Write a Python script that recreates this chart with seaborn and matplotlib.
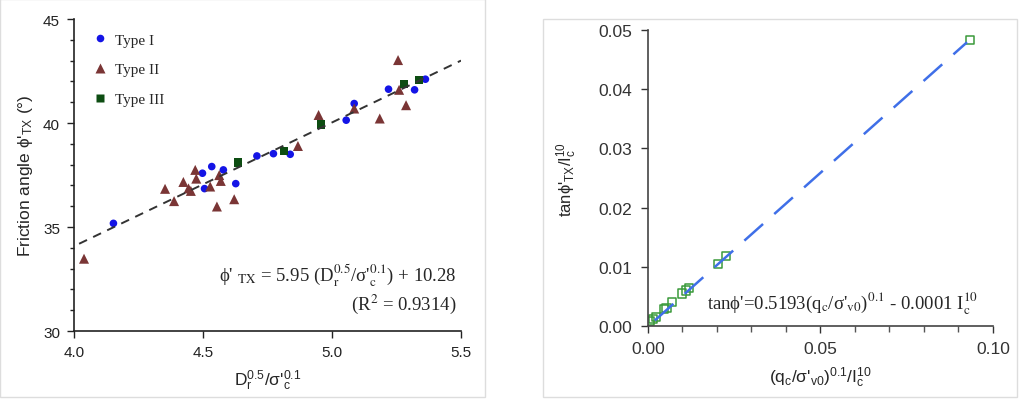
import matplotlib
matplotlib.use('Agg')
import matplotlib.pyplot as plt
import matplotlib.ticker as mticker
from matplotlib.patches import Rectangle
import numpy as np
import pandas as pd
import seaborn as sns

# left panel data: friction angle vs Dr^0.5 / sigma'c^0.1
type1_x = [4.153, 4.498, 4.506, 4.534, 4.579, 4.627, 4.709, 4.773, 4.838, 5.055, 5.086, 5.219, 5.320, 5.362]
type1_y = [35.18, 37.59, 36.85, 37.91, 37.75, 37.09, 38.42, 38.53, 38.50, 40.14, 40.94, 41.63, 41.60, 42.11]
type2_x = [4.039, 4.353, 4.388, 4.424, 4.444, 4.453, 4.470, 4.474, 4.528, 4.554, 4.563, 4.569, 4.621,
           4.868, 4.948, 5.086, 5.185, 5.256, 5.260, 5.287]
type2_y = [33.48, 36.84, 36.25, 37.17, 36.86, 36.74, 37.75, 37.33, 36.95, 35.99, 37.50, 37.22, 36.34,
           38.90, 40.39, 40.70, 40.22, 43.03, 41.60, 40.86]
type3_x = [4.635, 4.815, 4.958, 5.280, 5.338]
type3_y = [38.10, 38.66, 39.94, 41.88, 42.07]
fit_slope = 5.95
fit_icpt = 10.28
fit_range = [4.02, 5.5]

# right panel data
tan_x = [0.0006, 0.0015, 0.0023, 0.0046, 0.0054, 0.0070, 0.0098, 0.0110, 0.0119, 0.0204, 0.0226, 0.0933]
tan_y = [0.0009, 0.0012, 0.0015, 0.0029, 0.0031, 0.0040, 0.0055, 0.0060, 0.0064, 0.0105, 0.0118, 0.0483]
tan_slope = 0.5193
tan_icpt = -0.0001
tan_range = [0.002, 0.0925]

left_df = pd.DataFrame({
    'x': type1_x + type2_x + type3_x,
    'y': type1_y + type2_y + type3_y,
    'type': ['Type I'] * len(type1_x) + ['Type II'] * len(type2_x) + ['Type III'] * len(type3_x),
})
right_df = pd.DataFrame({'x': tan_x, 'y': tan_y})

sns.set_style('white')
plt.rcParams['font.family'] = ['Liberation Sans', 'DejaVu Sans']
plt.rcParams['mathtext.fontset'] = 'custom'
plt.rcParams['mathtext.rm'] = 'Liberation Sans'
plt.rcParams['mathtext.it'] = 'Liberation Sans'
plt.rcParams['mathtext.default'] = 'rm'

fig = plt.figure(figsize=(10.3, 4.1), dpi=100)
fig.patches.append(Rectangle((0.0, 0.03), 0.471, 0.97, transform=fig.transFigure,
                             fill=False, edgecolor='#dddddd', linewidth=1))
fig.patches.append(Rectangle((0.527, 0.03), 0.46, 0.921, transform=fig.transFigure,
                             fill=False, edgecolor='#dddddd', linewidth=1))

ax1 = fig.add_axes([0.0718, 0.190, 0.3758, 0.761])
ax2 = fig.add_axes([0.629, 0.2024, 0.335, 0.722])

serif = ['Liberation Serif', 'DejaVu Serif']

# ---- left panel
palette = {'Type I': '#1414e6', 'Type II': '#7a3535', 'Type III': '#0d4d12'}
markers = {'Type I': 'o', 'Type II': '^', 'Type III': 's'}
sizes = {'Type I': 30, 'Type II': 52, 'Type III': 36}
fx = np.array(fit_range)
sns.lineplot(x=fx, y=fit_slope * fx + fit_icpt, ax=ax1, color='#333333',
             linestyle=(0, (4.5, 3.5)), linewidth=1.4, legend=False)
sns.scatterplot(data=left_df, x='x', y='y', hue='type', style='type', size='type',
                palette=palette, markers=markers, sizes=sizes, edgecolor='none', ax=ax1)
ax1.set_xlim(4.0, 5.5)
ax1.set_ylim(30, 45)
ax1.xaxis.set_major_locator(mticker.MultipleLocator(0.5))
ax1.yaxis.set_major_locator(mticker.MultipleLocator(5))
ax1.yaxis.set_minor_locator(mticker.MultipleLocator(1))
ax1.xaxis.set_major_formatter(mticker.FormatStrFormatter('%.1f'))
ax1.tick_params(which='major', direction='out', length=5, width=1, labelsize=11,
                colors='#222222', pad=5)
ax1.tick_params(which='minor', direction='out', length=3, width=1, colors='#222222')
ax1.tick_params(axis='both', which='both', left=True, bottom=True)
for s in ['top', 'right']:
    ax1.spines[s].set_visible(False)
for s in ['left', 'bottom']:
    ax1.spines[s].set_color('#222222')
    ax1.spines[s].set_linewidth(1.2)
ax1.set_xlabel(r"D$_{\rm r}^{0.5}$/σ'$_{\rm c}^{0.1}$", fontsize=12.5, labelpad=6)
ax1.set_ylabel(r"Friction angle ϕ$'_{\rm TX}$ (°)", fontsize=12.5, labelpad=6)
leg = ax1.legend(loc='upper left', frameon=False, prop={'family': serif, 'size': 11},
                 handletextpad=0.0, labelspacing=1.05, borderaxespad=0.3,
                 bbox_to_anchor=(0.0, 0.99))
ax1.text(0.987, 0.18, r"ϕ' $_{\rm TX}$ = 5.95 (D$_{\rm r}^{0.5}$/σ'$_{\rm c}^{0.1}$) + 10.28",
         transform=ax1.transAxes, ha='right', va='center', fontsize=13.5,
         family=serif, math_fontfamily='stix')
ax1.text(0.987, 0.09, r"(R$^2$ = 0.9314)", transform=ax1.transAxes, ha='right', va='center',
         fontsize=13.5, family=serif, math_fontfamily='stix')

# ---- right panel
rx = np.array(tan_range)
sns.lineplot(x=rx, y=tan_slope * rx + tan_icpt, ax=ax2, color='#3f6fe8',
             linestyle=(0, (10, 6)), linewidth=1.8, legend=False)
sns.scatterplot(data=right_df, x='x', y='y', marker='s', s=34, facecolor='none',
                edgecolor='#3a9a3a', linewidth=1.1, ax=ax2)
ax2.set_xlim(0, 0.10)
ax2.set_ylim(0, 0.05)
ax2.xaxis.set_major_locator(mticker.MultipleLocator(0.05))
ax2.xaxis.set_minor_locator(mticker.MultipleLocator(0.01))
ax2.yaxis.set_major_locator(mticker.MultipleLocator(0.01))
ax2.xaxis.set_major_formatter(mticker.FormatStrFormatter('%.2f'))
ax2.yaxis.set_major_formatter(mticker.FormatStrFormatter('%.2f'))
ax2.tick_params(which='major', direction='out', length=5, width=1, labelsize=12.5,
                colors='#333333', pad=6)
ax2.tick_params(which='minor', direction='out', length=4, width=1, colors='#555555')
ax2.tick_params(axis='both', which='both', left=True, bottom=True)
for s in ['top', 'right']:
    ax2.spines[s].set_visible(False)
for s in ['left', 'bottom']:
    ax2.spines[s].set_color('#444444')
    ax2.spines[s].set_linewidth(1.2)
ax2.set_xlabel(r"(q$_{\rm c}$/σ'$_{\rm v0}$)$^{0.1}$/I$_{\rm c}^{10}$", fontsize=12.5, labelpad=6)
ax2.set_ylabel(r"tanϕ$'_{\rm TX}$/I$_{\rm c}^{10}$", fontsize=12, labelpad=14)
ax2.text(0.17, 0.077, r"tanϕ'=0.5193(q$_{\rm c}$/σ'$_{\rm v0}$)$^{0.1}$ - 0.0001 I$_{\rm c}^{10}$",
         transform=ax2.transAxes, ha='left', va='center', fontsize=13.5,
         family=serif, math_fontfamily='stix')

fig.savefig('out.png', dpi=100)
